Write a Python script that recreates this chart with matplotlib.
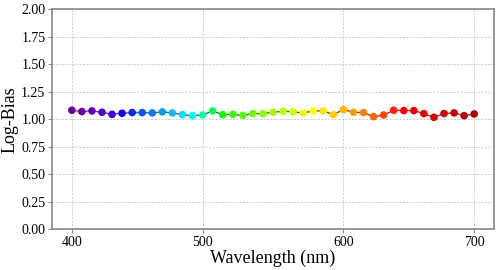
import numpy as np
import matplotlib
matplotlib.use('Agg')
import matplotlib.pyplot as plt

# wavelengths sampled every 7.5 nm
wavelengths = [400 + 7.5 * i for i in range(41)]
log_bias = [1.082, 1.070, 1.076, 1.064, 1.045, 1.055, 1.061, 1.061, 1.058, 1.067,
            1.058, 1.042, 1.033, 1.039, 1.076, 1.042, 1.045, 1.036, 1.052, 1.052,
            1.064, 1.073, 1.067, 1.058, 1.076, 1.076, 1.042, 1.088, 1.064, 1.061,
            1.024, 1.039, 1.082, 1.079, 1.079, 1.052, 1.018, 1.052, 1.058, 1.033,
            1.048]
tick_labels = [400, 500, 600, 700]


def wavelength_to_rgb(wl, gamma=0.8):
    # approximate visible colour of a wavelength (Bruton)
    if wl < 440:
        att = 0.3 + 0.7 * (wl - 380) / 60
        r, g, b = (-(wl - 440) / 60) * att, 0.0, 1.0 * att
    elif wl < 490:
        r, g, b = 0.0, (wl - 440) / 50, 1.0
    elif wl < 510:
        r, g, b = 0.0, 1.0, -(wl - 510) / 20
    elif wl < 580:
        r, g, b = (wl - 510) / 70, 1.0, 0.0
    elif wl < 645:
        r, g, b = 1.0, -(wl - 645) / 65, 0.0
    else:
        att = 0.3 + 0.7 * (750 - wl) / 105
        r, g, b = 1.0 * att, 0.0, 0.0
    return (r ** gamma, g ** gamma, b ** gamma)


plt.rcParams['font.family'] = ['Liberation Serif', 'DejaVu Serif']

fig = plt.figure(figsize=(4.99, 2.70), dpi=100)
ax = fig.add_axes([0.1036, 0.1507, 0.887, 0.815])

idx = np.arange(len(wavelengths))
colors = [wavelength_to_rgb(w) for w in wavelengths]
ax.plot(idx, log_bias, color='#555555', linewidth=1.0, zorder=2)
ax.scatter(idx, log_bias, c=colors, s=30, zorder=3, linewidths=0)

# ticks at the samples nearest to each round wavelength
wl = np.array(wavelengths)
tick_pos = [int(np.argmin(np.abs(wl - t))) for t in tick_labels]
ax.set_xticks(tick_pos)
ax.set_xticklabels([str(t) for t in tick_labels])
ax.set_xlim(-2, 42)
ax.set_ylim(0, 2)
ax.set_yticks(np.arange(0, 2.01, 0.25))
ax.yaxis.set_major_formatter(matplotlib.ticker.FormatStrFormatter('%.2f'))

ax.grid(True, linestyle=(0, (2, 1.5)), color='#cccccc', linewidth=0.7)
ax.set_axisbelow(True)
for s in ax.spines.values():
    s.set_color('#888888')
    s.set_linewidth(1.2)
ax.tick_params(length=3, width=0.8, color='#888888', labelsize=10, pad=1.5)

ax.set_xlabel('Wavelength (nm)', fontsize=13, labelpad=1)
ax.set_ylabel('Log-Bias', fontsize=13, labelpad=2)

fig.savefig('out.png', dpi=100)
